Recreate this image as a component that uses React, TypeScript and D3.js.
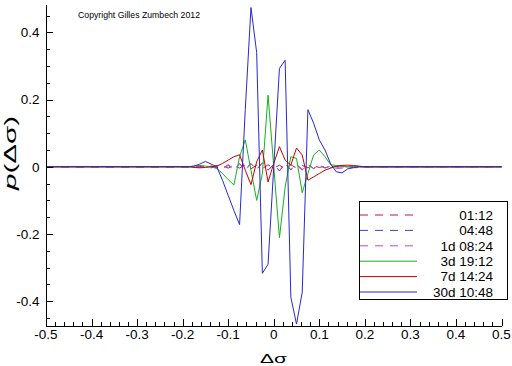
import React from 'react';
import * as d3 from 'd3';

// grid of Δσ values shared by all series
const XS = [-0.5, -0.225, -0.2125, -0.2, -0.1875, -0.175, -0.1625, -0.15, -0.1375, -0.125, -0.1125, -0.1,
  -0.0875, -0.075, -0.0625, -0.05, -0.0375, -0.025, -0.0125, 0, 0.0125, 0.025, 0.0375, 0.05, 0.0625,
  0.075, 0.0875, 0.1, 0.1125, 0.125, 0.1375, 0.15, 0.1625, 0.175, 0.1875, 0.2, 0.2125, 0.225, 0.5];

const S_0112 = [0, 0, 0, 0, 0, 0, 0.002, -0.002, 0.003, -0.003, 0.004, -0.004, 0.005, -0.004, 0.006, -0.006,
  0.005, -0.005, 0.006, -0.004, 0.005, -0.006, 0.006, -0.004, 0.004, -0.003, 0.003, -0.002, 0.002, -0.002,
  0.001, 0, 0, 0, 0, 0, 0, 0, 0];
const S_0448 = [0, 0, 0, 0, 0, 0, 0, 0.002, -0.003, 0.004, -0.005, 0.006, -0.007, 0.008, -0.006, 0.01,
  -0.008, 0.012, -0.01, 0.008, -0.012, 0.01, -0.009, 0.007, -0.008, 0.006, -0.005, 0.004, -0.003, 0.002,
  -0.001, 0, 0, 0, 0, 0, 0, 0, 0];
const S_1d = [0, 0, 0, 0, 0, 0.001, -0.002, 0.002, -0.003, 0.003, -0.004, 0.004, -0.006, 0.01, -0.01, 0.008,
  -0.008, 0.012, -0.01, 0.006, -0.012, 0.01, -0.008, 0.005, -0.01, 0.008, -0.005, 0.006, -0.004, 0.003,
  -0.005, -0.004, -0.004, -0.003, -0.002, -0.001, 0, 0, 0];
const S_3d = [0, 0, 0, 0, 0, 0.002, 0.004, 0.002, 0, -0.005, -0.02, -0.038, -0.054, 0.03, 0.08, -0.01,
  -0.1, -0.02, 0.213, 0, -0.211, -0.06, 0.03, 0.025, -0.077, -0.02, 0.035, 0.05, 0.03, 0.006,
  0.004, 0.002, 0, 0, 0, 0, 0, 0, 0];
const S_7d = [0, 0, 0, 0, 0, -0.002, -0.003, -0.002, 0, 0.002, 0.01, 0.02, 0.03, 0.036, -0.01, -0.053,
  0.015, 0.05, -0.045, 0.01, 0.06, 0.02, 0.005, 0.056, 0.035, -0.04, -0.03, -0.02, -0.01, -0.004,
  0.002, 0.004, 0.005, 0.004, 0.002, 0, 0, 0, 0];
const S_30d = [0, 0, 0, 0, 0, 0.002, 0.008, 0.016, 0.008, 0, -0.04, -0.085, -0.13, -0.172, 0.17, 0.474,
  0.34, -0.317, -0.29, 0, 0.293, 0.317, -0.388, -0.468, -0.373, 0.17, 0.13, 0.08, 0.05, 0.008,
  -0.015, -0.018, -0.006, -0.002, 0, 0, 0, 0, 0];

const LABELS = ['01:12', '04:48', '1d 08:24', '3d 19:12', '7d 14:24', '30d 10:48'];
const SERIES = [S_0112, S_0448, S_1d, S_3d, S_7d, S_30d];
const COLORS = ['#cc1040', '#4040c8', '#d040d0', '#18b018', '#c80000', '#2828d0'];
const DASHED = [true, true, true, false, false, false];

const X_TICKS = [-0.5, -0.4, -0.3, -0.2, -0.1, 0, 0.1, 0.2, 0.3, 0.4, 0.5];
const Y_TICKS = [-0.4, -0.2, 0, 0.2, 0.4];

const W = 512;
const H = 366;
const FONT = 'Liberation Sans, Arial, sans-serif';

const fmt = (v: number) => {
  const r = Math.round(v * 10) / 10;
  return r === 0 ? '0' : String(r);
};

const App = () => {
  const x = d3.scaleLinear().domain([-0.5, 0.5]).range([46, 501.5]);
  const y = d3.scaleLinear().domain([-0.4737, 0.4815]).range([326, 5]);
  const line = d3.line<number>().x((d, i) => x(XS[i])).y(d => y(d));

  const xMinor = x.ticks(50);
  const yMinor = y.ticks(20);
  const x0 = x.range()[0];
  const y0 = y.range()[0];

  return (
    <svg width={W} height={H} style={{position: 'absolute', left: 0, top: 0, background: '#fff'}}>
      <text x={78} y={18} fontFamily={FONT} fontSize={8.7} textLength={122}>Copyright Gilles Zumbech 2012</text>

      {SERIES.map((s, i) => (
        <path key={LABELS[i]} d={line(s) || ''} fill="none" stroke={COLORS[i]} strokeWidth={1}
          strokeDasharray={DASHED[i] ? '8,7' : undefined} />
      ))}

      {/* axes */}
      <g stroke="#000" strokeWidth={1} shapeRendering="crispEdges">
        <line x1={x0 + 0.5} x2={x0 + 0.5} y1={y.range()[1]} y2={y0 + 0.5} />
        <line x1={x0} x2={x.range()[1]} y1={y0 + 0.5} y2={y0 + 0.5} />
        {xMinor.map(t => {
          const major = X_TICKS.some(m => Math.abs(m - t) < 1e-9);
          return <line key={'xm' + t} x1={Math.round(x(t)) + 0.5} x2={Math.round(x(t)) + 0.5}
            y1={y0} y2={y0 - (major ? 7 : 4)} />;
        })}
        {yMinor.map(t => {
          const major = Y_TICKS.some(m => Math.abs(m - t) < 1e-9);
          return <line key={'ym' + t} y1={Math.round(y(t)) + 0.5} y2={Math.round(y(t)) + 0.5}
            x1={x0} x2={x0 + (major ? 7 : 4)} />;
        })}
      </g>
      {X_TICKS.map(t => (
        <text key={'xl' + t} x={x(t)} y={338.5} textAnchor="middle" fontFamily={FONT} fontSize={13.5}>{fmt(t)}</text>
      ))}
      {Y_TICKS.map(t => (
        <text key={'yl' + t} x={39.5} y={y(t) + 4.8} textAnchor="end" fontFamily={FONT} fontSize={13.5}>{fmt(t)}</text>
      ))}

      <text x={273.5} y={362.5} textAnchor="middle" fontFamily={FONT} fontSize={12} textLength={27}
        lengthAdjust="spacingAndGlyphs">Δσ</text>
      <text transform="translate(16,153) rotate(-90)" textAnchor="middle" fontFamily={FONT} fontSize={16}
        textLength={74} lengthAdjust="spacingAndGlyphs">
        <tspan fontStyle="italic">p</tspan>(Δσ)
      </text>

      {/* legend */}
      <rect x={359.5} y={201.5} width={148} height={98} fill="#fff" stroke="#000" strokeWidth={1} />
      {LABELS.map((l, i) => {
        const ly = 215 + i * 15.4;
        return (
          <g key={'lg' + l}>
            <line x1={360} x2={417} y1={ly} y2={ly} stroke={COLORS[i]} strokeWidth={1}
              strokeDasharray={DASHED[i] ? '8,7' : undefined} />
            <text x={493} y={ly + 4.8} textAnchor="end" fontFamily={FONT} fontSize={13.5}>{l}</text>
          </g>
        );
      })}
    </svg>
  );
};

export default App;
